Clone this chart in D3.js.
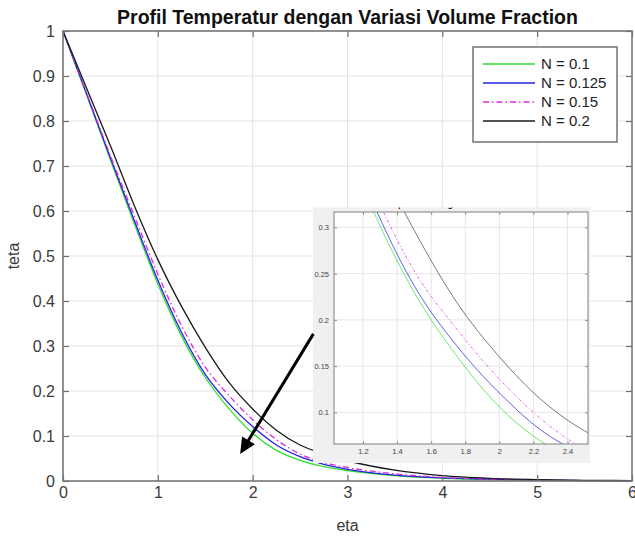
<!DOCTYPE html>
<html>
<head>
<meta charset="utf-8">
<script src="https://cdn.jsdelivr.net/npm/d3@7"></script>
<style>
body { margin: 0; background: #fff; }
text { font-family: "Liberation Sans", Arial, sans-serif; }
</style>
</head>
<body>
<svg id="grafik" width="635" height="537"></svg>
<script>
// data
var eta = [0, 0.25, 0.5, 0.75, 1, 1.25, 1.5, 1.75, 2, 2.25, 2.5, 2.75, 3, 3.5, 4, 4.5, 5, 5.5, 6];
var tetaN01   = [1, 0.857, 0.713, 0.573, 0.438, 0.322, 0.230, 0.161, 0.106, 0.068, 0.046, 0.032, 0.023, 0.012, 0.006, 0.003, 0.0015, 0.001, 0.0005];
var tetaN0125 = [1, 0.860, 0.718, 0.580, 0.446, 0.330, 0.237, 0.172, 0.121, 0.080, 0.054, 0.037, 0.026, 0.013, 0.007, 0.004, 0.002, 0.001, 0.0005];
var tetaN015  = [1, 0.862, 0.723, 0.590, 0.460, 0.345, 0.253, 0.190, 0.136, 0.092, 0.060, 0.041, 0.030, 0.016, 0.008, 0.004, 0.002, 0.001, 0.0005];
var tetaN02   = [1, 0.872, 0.745, 0.613, 0.492, 0.388, 0.297, 0.219, 0.160, 0.113, 0.080, 0.060, 0.045, 0.024, 0.012, 0.006, 0.003, 0.0015, 0.001];
var namaSeri = ["N = 0.1", "N = 0.125", "N = 0.15", "N = 0.2"];

var xTicks = [0, 1, 2, 3, 4, 5, 6];
var yTicks = [0, 0.1, 0.2, 0.3, 0.4, 0.5, 0.6, 0.7, 0.8, 0.9, 1];
var insetXTicks = [1.2, 1.4, 1.6, 1.8, 2, 2.2, 2.4];
var insetYTicks = [0.1, 0.15, 0.2, 0.25, 0.3];
var insetXDomain = [1.03, 2.52];
var insetYDomain = [0.0658, 0.3166];
// panah (koordinat data plot utama): pangkal, ujung
var panah = [[2.64, 0.327], [1.868, 0.06]];

var judul = "Profil Temperatur dengan Variasi Volume Fraction";

var seri = [tetaN01, tetaN0125, tetaN015, tetaN02];
var warna = ["#2fe02f", "#2323e0", "#e02ae0", "#1a1a1a"];
var dash = [null, null, "6,3,1.5,3", null];
var dashKecil = [null, null, "3,2,1,2", null];

var svg = d3.select("#grafik");
var W = 635, H = 537;
var kiri = 63, kanan = 632, atas = 31, bawah = 481;

var x = d3.scaleLinear().domain([0, 6]).range([kiri, kanan]);
var y = d3.scaleLinear().domain([0, 1]).range([bawah, atas]);

svg.append("rect").attr("width", W).attr("height", H).attr("fill", "#fff");

// grid
var grid = svg.append("g");
grid.selectAll(".gx").data(xTicks.slice(1, -1)).enter().append("line")
	.attr("x1", function(d){return x(d);}).attr("x2", function(d){return x(d);})
	.attr("y1", atas).attr("y2", bawah)
	.attr("stroke", "#e3e3e3").attr("stroke-width", 1);
grid.selectAll(".gy").data(yTicks.slice(1, -1)).enter().append("line")
	.attr("y1", function(d){return y(d);}).attr("y2", function(d){return y(d);})
	.attr("x1", kiri).attr("x2", kanan)
	.attr("stroke", "#e3e3e3").attr("stroke-width", 1);

// kurva utama
var garis = d3.line()
	.x(function(d, i){return x(eta[i]);})
	.y(function(d){return y(d);})
	.curve(d3.curveMonotoneX);

svg.selectAll(".kurva").data(seri).enter().append("path")
	.attr("class", "kurva")
	.attr("d", garis)
	.attr("fill", "none")
	.attr("stroke", function(d, i){return warna[i];})
	.attr("stroke-width", 1.3)
	.attr("stroke-dasharray", function(d, i){return dash[i];});

// sumbu (tick ke dalam, gaya matlab)
function gayaSumbu(g, ukuran) {
	g.select(".domain").remove();
	g.selectAll(".tick line").attr("stroke", "#6e6e6e").attr("stroke-width", 1.2);
	g.selectAll(".tick text").attr("fill", "#3a3a3a").attr("font-size", ukuran)
		.attr("font-family", "Liberation Sans, Arial, sans-serif");
}

svg.append("g").attr("transform", "translate(0," + bawah + ")")
	.call(d3.axisBottom(x).tickValues(xTicks).tickFormat(d3.format("d")).tickSizeInner(-6).tickSizeOuter(0).tickPadding(6))
	.call(gayaSumbu, 16);
svg.append("g").attr("transform", "translate(0," + atas + ")")
	.call(d3.axisTop(x).tickValues(xTicks).tickFormat("").tickSizeInner(-6).tickSizeOuter(0))
	.call(gayaSumbu, 16);
svg.append("g").attr("transform", "translate(" + kiri + ",0)")
	.call(d3.axisLeft(y).tickValues(yTicks).tickFormat(function(d){return d3.format("")(+d.toFixed(1));}).tickSizeInner(-6).tickSizeOuter(0).tickPadding(8))
	.call(gayaSumbu, 16);
svg.append("g").attr("transform", "translate(" + kanan + ",0)")
	.call(d3.axisRight(y).tickValues(yTicks).tickFormat("").tickSizeInner(-6).tickSizeOuter(0))
	.call(gayaSumbu, 16);

svg.append("rect")
	.attr("x", kiri).attr("y", atas).attr("width", kanan - kiri).attr("height", bawah - atas)
	.attr("fill", "none").attr("stroke", "#767676").attr("stroke-width", 1.6);

// judul dan label
svg.append("text").attr("x", (kiri + kanan) / 2).attr("y", 24)
	.attr("text-anchor", "middle").attr("font-size", 19.5).attr("font-weight", "bold")
	.attr("fill", "#111").text(judul);
svg.append("text").attr("x", (kiri + kanan) / 2).attr("y", 531)
	.attr("text-anchor", "middle").attr("font-size", 16).attr("fill", "#3a3a3a").text("eta");
svg.append("text").attr("transform", "translate(18.5," + y(0.5) + ") rotate(-90)")
	.attr("text-anchor", "middle").attr("font-size", 16).attr("fill", "#3a3a3a").text("teta");

// legenda
var leg = svg.append("g").attr("transform", "translate(473,47)");
leg.append("rect").attr("width", 144).attr("height", 95)
	.attr("fill", "#fff").attr("stroke", "#6a6a6a").attr("stroke-width", 1.4);
var item = leg.selectAll(".item").data(namaSeri).enter().append("g")
	.attr("transform", function(d, i){return "translate(0," + (17 + i * 19) + ")";});
item.append("line").attr("x1", 10).attr("x2", 62)
	.attr("stroke", function(d, i){return warna[i];})
	.attr("stroke-width", 1.3)
	.attr("stroke-dasharray", function(d, i){return dash[i];});
item.append("text").attr("x", 68).attr("dy", "0.35em").attr("font-size", 15)
	.attr("fill", "#222").text(function(d){return d;});

// inset (zoom)
var ix = d3.scaleLinear().domain(insetXDomain).range([334, 588]);
var iy = d3.scaleLinear().domain(insetYDomain).range([444, 212]);
var inset = svg.append("g");
inset.append("defs").append("clipPath").attr("id", "klipGambar")
	.append("rect").attr("x", 313).attr("y", 207.5).attr("width", 277).attr("height", 255.5);
inset.append("defs").append("clipPath").attr("id", "klipInset")
	.append("rect").attr("x", 334).attr("y", 212).attr("width", 254).attr("height", 232);

inset.append("rect").attr("x", 313).attr("y", 207.5).attr("width", 277).attr("height", 255.5)
	.attr("fill", "#f0f0f0");
// judul inset yang terpotong
inset.append("text").attr("clip-path", "url(#klipGambar)")
	.attr("x", 461).attr("y", 206.8).attr("text-anchor", "middle")
	.attr("font-size", 9).attr("font-weight", "bold").attr("fill", "#222").text(judul);
inset.append("rect").attr("x", 334).attr("y", 212).attr("width", 254).attr("height", 232)
	.attr("fill", "#fff");

inset.selectAll(".igx").data(insetXTicks).enter().append("line")
	.attr("x1", function(d){return ix(d);}).attr("x2", function(d){return ix(d);})
	.attr("y1", 212).attr("y2", 444).attr("stroke", "#e6e6e6");
inset.selectAll(".igy").data(insetYTicks).enter().append("line")
	.attr("y1", function(d){return iy(d);}).attr("y2", function(d){return iy(d);})
	.attr("x1", 334).attr("x2", 588).attr("stroke", "#e6e6e6");

var garisInset = d3.line()
	.x(function(d, i){return ix(eta[i]);})
	.y(function(d){return iy(d);})
	.curve(d3.curveMonotoneX);
inset.append("g").attr("clip-path", "url(#klipInset)")
	.selectAll(".ik").data(seri).enter().append("path")
	.attr("d", garisInset)
	.attr("fill", "none")
	.attr("stroke", function(d, i){return i == 3 ? "#444" : warna[i];})
	.attr("stroke-opacity", 0.8)
	.attr("stroke-width", 0.9)
	.attr("stroke-dasharray", function(d, i){return dashKecil[i];});

function gayaInset(g) {
	g.select(".domain").remove();
	g.selectAll(".tick line").attr("stroke", "#777").attr("stroke-width", 0.8);
	g.selectAll(".tick text").attr("fill", "#444").attr("font-size", 7.5)
		.attr("font-family", "Liberation Sans, Arial, sans-serif");
}
inset.append("g").attr("transform", "translate(0,444)")
	.call(d3.axisBottom(ix).tickValues(insetXTicks).tickFormat(function(d){return d3.format("")(+d.toFixed(1));}).tickSizeInner(-3).tickSizeOuter(0).tickPadding(5))
	.call(gayaInset);
inset.append("g").attr("transform", "translate(0,212)")
	.call(d3.axisTop(ix).tickValues(insetXTicks).tickFormat("").tickSizeInner(-3).tickSizeOuter(0))
	.call(gayaInset);
inset.append("g").attr("transform", "translate(334,0)")
	.call(d3.axisLeft(iy).tickValues(insetYTicks).tickFormat(function(d){return d3.format("")(+d.toFixed(2));}).tickSizeInner(-3).tickSizeOuter(0).tickPadding(5))
	.call(gayaInset);
inset.append("g").attr("transform", "translate(588,0)")
	.call(d3.axisRight(iy).tickValues(insetYTicks).tickFormat("").tickSizeInner(-3).tickSizeOuter(0))
	.call(gayaInset);
inset.append("rect").attr("x", 334).attr("y", 212).attr("width", 254).attr("height", 232)
	.attr("fill", "none").attr("stroke", "#808080").attr("stroke-width", 1);

// panah
var p0 = [x(panah[0][0]), y(panah[0][1])];
var p1 = [x(panah[1][0]), y(panah[1][1])];
var dx = p1[0] - p0[0], dy = p1[1] - p0[1];
var len = Math.sqrt(dx * dx + dy * dy);
var ux = dx / len, uy = dy / len;
var panjangKepala = 16, lebarKepala = 7.5;
var bx = p1[0] - ux * panjangKepala, by = p1[1] - uy * panjangKepala;
svg.append("line").attr("x1", p0[0]).attr("y1", p0[1]).attr("x2", bx + ux * 2).attr("y2", by + uy * 2)
	.attr("stroke", "#000").attr("stroke-width", 3);
svg.append("path")
	.attr("d", "M" + p1[0] + "," + p1[1] +
		"L" + (bx - uy * lebarKepala) + "," + (by + ux * lebarKepala) +
		"L" + (bx + uy * lebarKepala) + "," + (by - ux * lebarKepala) + "Z")
	.attr("fill", "#000");
</script>
</body>
</html>
